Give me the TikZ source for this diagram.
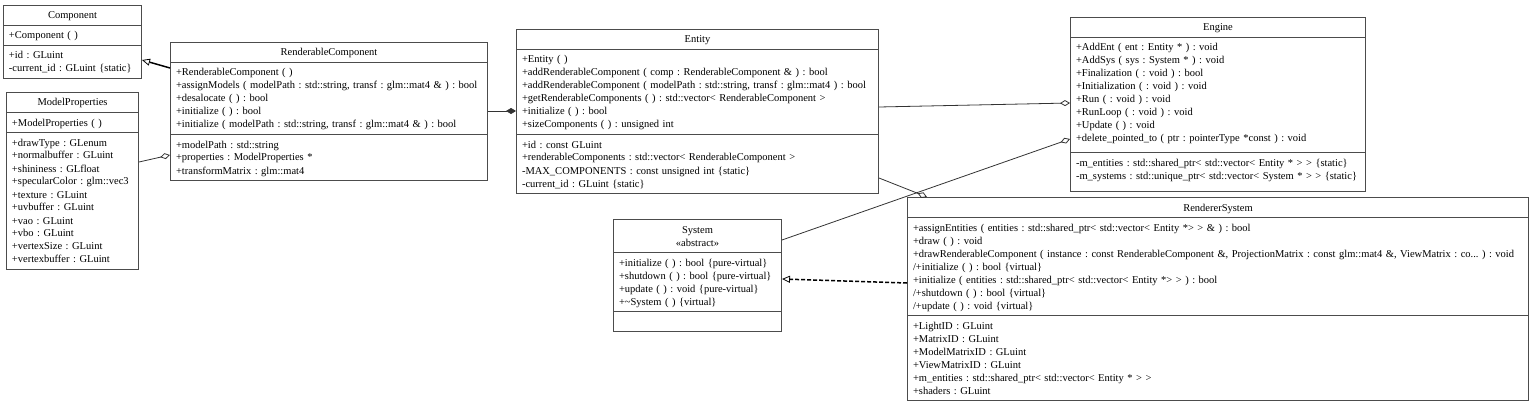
\documentclass[tikz,border=0pt]{standalone}
\usepackage{fontspec}
\setmainfont{Liberation Serif}
\usetikzlibrary{shapes.multipart, arrows.meta}

\newcommand{\rowtop}{\rule{0pt}{13pt}}
\newcommand{\umlpart}[2][6pt]{\rowtop#2\rule[-#1]{0pt}{#1}}
\newcommand{\umltitle}[1]{\makebox[\hsize]{#1}}

\begin{document}
\begin{tikzpicture}[x=1pt, y=-1pt, line width=1pt,
    umlclass/.style={rectangle split, rectangle split parts=3, draw=black!70, fill=white,
      text width=#1, inner xsep=5.5pt, inner ysep=0pt, anchor=north west, align=left,
      font=\fontsize{10.5}{13}\selectfont\frenchspacing},
    relation/.style={draw=black!80, line width=0.8pt},
    aggregation/.style={relation, -{Diamond[open, length=10pt, width=6pt]}},
    composition/.style={relation, -{Diamond[length=10pt, width=6pt]}},
    inheritance/.style={draw=black, line width=1.5pt, -{Triangle[open, length=8pt, width=7pt, line width=0.8pt]}},
    realization/.style={inheritance, dash pattern=on 4pt off 2pt}]
    \useasboundingbox (0, 0) rectangle (1535, 404);

    % draw class boxes
    \node[umlclass=127pt] (component) at (3, 5)
      {\umlpart{\umltitle{Component}}
       \nodepart{two}\umlpart{+Component ( )}
       \nodepart{three}\umlpart{+id : GLuint\\-current\_id : GLuint \{static\}}};
    \node[umlclass=121pt] (modelprops) at (6, 92)
      {\umlpart{\umltitle{ModelProperties}}
       \nodepart{two}\umlpart{+ModelProperties ( )}
       \nodepart{three}\umlpart{+drawType : GLenum\\+normalbuffer : GLuint\\+shininess : GLfloat\\
         +specularColor : glm::vec3\\+texture : GLuint\\+uvbuffer : GLuint\\+vao : GLuint\\
         +vbo : GLuint\\+vertexSize : GLuint\\+vertexbuffer : GLuint}};
    \node[umlclass=306pt] (renderable) at (170, 42)
      {\umlpart{\umltitle{RenderableComponent}}
       \nodepart{two}\umlpart{+RenderableComponent ( )\\
         +assignModels ( modelPath : std::string, transf : glm::mat4 \& ) : bool\\
         +desalocate ( ) : bool\\+initialize ( ) : bool\\
         +initialize ( modelPath : std::string, transf : glm::mat4 \& ) : bool}
       \nodepart{three}\umlpart{+modelPath : std::string\\+properties : ModelProperties *\\
         +transformMatrix : glm::mat4}};
    \node[umlclass=351pt] (entity) at (516, 29)
      {\umlpart{\umltitle{Entity}}
       \nodepart{two}\umlpart{+Entity ( )\\
         +addRenderableComponent ( comp : RenderableComponent \& ) : bool\\
         +addRenderableComponent ( modelPath : std::string, transf : glm::mat4 ) : bool\\
         +getRenderableComponents ( ) : std::vector< RenderableComponent >\\
         +initialize ( ) : bool\\+sizeComponents ( ) : unsigned int}
       \nodepart{three}\umlpart{+id : const GLuint\\
         +renderableComponents : std::vector< RenderableComponent >\\
         -MAX\_COMPONENTS : const unsigned int \{static\}\\-current\_id : GLuint \{static\}}};
    \node[umlclass=284pt] (engine) at (1070, 17)
      {\umlpart{\umltitle{Engine}}
       \nodepart{two}\umlpart[10pt]{+AddEnt ( ent : Entity * ) : void\\+AddSys ( sys : System * ) : void\\
         +Finalization ( : void ) : bool\\+Initialization ( : void ) : void\\+Run ( : void ) : void\\
         +RunLoop ( : void ) : void\\+Update ( ) : void\\
         +delete\_pointed\_to ( ptr : pointerType *const ) : void}
       \nodepart{three}\umlpart[12pt]{-m\_entities : std::shared\_ptr< std::vector< Entity * > > \{static\}\\
         -m\_systems : std::unique\_ptr< std::vector< System * > > \{static\}}};
    \node[umlclass=157pt] (system) at (613, 219)
      {\umlpart{\umltitle{System}\\\umltitle{«abstract»}}
       \nodepart{two}\umlpart{+initialize ( ) : bool \{pure-virtual\}\\+shutdown ( ) : bool \{pure-virtual\}\\
         +update ( ) : void \{pure-virtual\}\\+\textasciitilde System ( ) \{virtual\}}
       \nodepart{three}\umlpart{}};
    \node[umlclass=610pt] (renderer) at (907, 197)
      {\umlpart{\umltitle{RendererSystem}}
       \nodepart{two}\umlpart{+assignEntities ( entities : std::shared\_ptr< std::vector< Entity *> > \& ) : bool\\
         +draw ( ) : void\\
         +drawRenderableComponent ( instance : const RenderableComponent \&, ProjectionMatrix : const glm::mat4 \&, ViewMatrix : co... ) : void\\
         /+initialize ( ) : bool \{virtual\}\\
         +initialize ( entities : std::shared\_ptr< std::vector< Entity *> > ) : bool\\
         /+shutdown ( ) : bool \{virtual\}\\/+update ( ) : void \{virtual\}}
       \nodepart{three}\umlpart{+LightID : GLuint\\+MatrixID : GLuint\\+ModelMatrixID : GLuint\\
         +ViewMatrixID : GLuint\\+m\_entities : std::shared\_ptr< std::vector< Entity * > >\\
         +shaders : GLuint}};

    % draw relations
    \draw[inheritance] ([yshift=-26pt]renderable.north west) -- ([yshift=-55pt]component.north east);
    \draw[aggregation] ([yshift=-70pt]modelprops.north east) -- ([yshift=-113pt]renderable.north west);
    \draw[composition] ([yshift=-69pt]renderable.north east) -- ([yshift=-82pt]entity.north west);
    \draw[aggregation] ([yshift=-78pt]entity.north east) -- ([yshift=-86pt]engine.north west);
    \draw[aggregation] ([yshift=-21pt]system.north east) -- ([yshift=-122pt]engine.north west);
    \draw[aggregation] ([yshift=-149pt]entity.north east) -- ([xshift=20pt]renderer.north west);
    \draw[realization] ([yshift=-86pt]renderer.north west) -- ([yshift=-60pt]system.north east);
\end{tikzpicture}
\end{document}
